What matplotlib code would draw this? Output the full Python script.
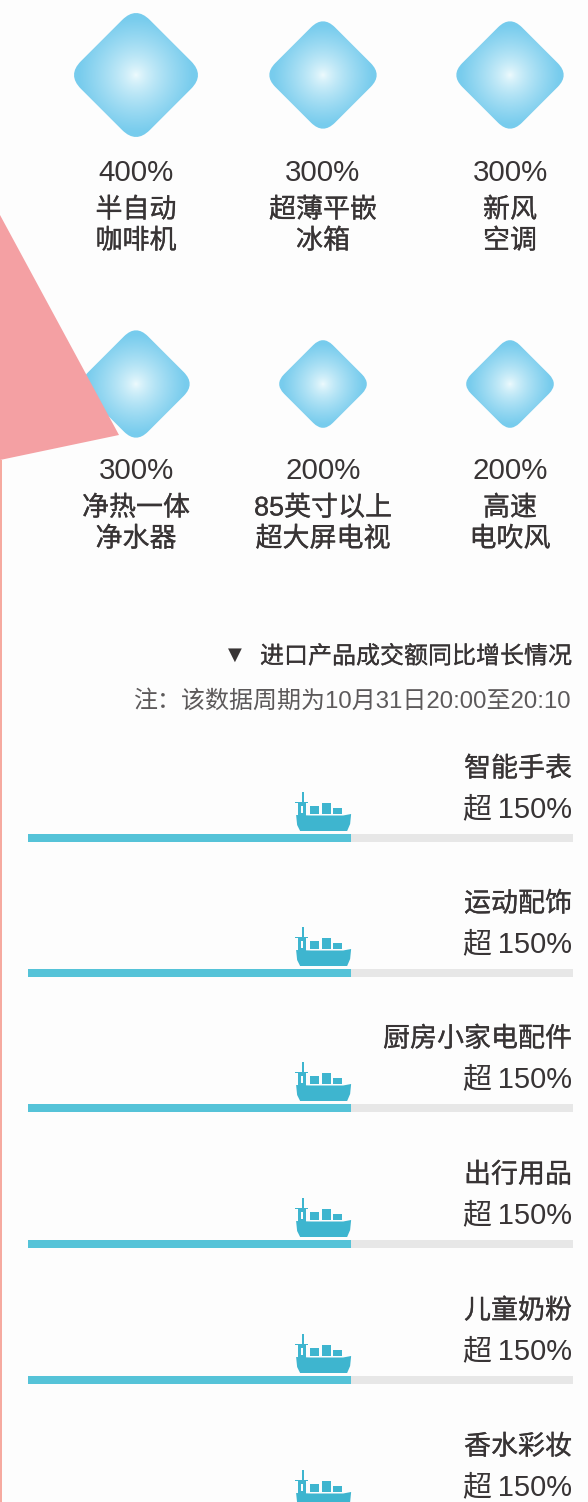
import numpy as np
import matplotlib
matplotlib.use("Agg")
import matplotlib.pyplot as plt
import matplotlib.patheffects as pe
from matplotlib.path import Path
from matplotlib.patches import PathPatch, Polygon, Rectangle

W, H = 588, 1502
DPI = 100
BG = "#fdfdfd"
TEXT = "#383435"
FONT = ["Liberation Sans", "Noto Sans CJK SC", "DejaVu Sans"]
HEAVY = [pe.withStroke(linewidth=0.18, foreground=TEXT)]  # thickens the regular CJK cut a little

# appliance growth, diamonds sized by area
growth_values = [400, 300, 300, 300, 200, 200]
growth_labels = ["400%", "300%", "300%", "300%", "200%", "200%"]
growth_names = [["半自动", "咖啡机"], ["超薄平嵌", "冰箱"], ["新风", "空调"],
                ["净热一体", "净水器"], ["85英寸以上", "超大屏电视"], ["高速", "电吹风"]]

# imported products
import_names = ["智能手表", "运动配饰", "厨房小家电配件", "出行用品", "儿童奶粉", "香水彩妆"]
import_values = [150, 150, 150, 150, 150, 150]
import_labels = ["超\u2009150%"] * 6
AXIS_MAX = 253  # full length of the grey track

DIAMOND_X = [136, 323, 510]
DIAMOND_Y = [75, 384]
LABEL_Y = [173, 471]
ROW_Y = [838, 973, 1108, 1244, 1380, 1516]


def px(size):
    return size * 72 / DPI


def rounded_diamond(cx, cy, half, r=0.2):
    """Diamond with softened corners; half is the reach of the rounded tips."""
    reach = half / (1 - r / 2)
    corners = [(cx, cy - reach), (cx + reach, cy), (cx, cy + reach), (cx - reach, cy)]
    verts, codes = [], []
    for i, c in enumerate(corners):
        prev_c = np.array(corners[i - 1])
        next_c = np.array(corners[(i + 1) % 4])
        c = np.array(c)
        a = c + (prev_c - c) * r
        b = c + (next_c - c) * r
        verts += [a, c, b]
        codes += [Path.LINETO, Path.CURVE3, Path.CURVE3]
    codes[0] = Path.MOVETO
    verts.append(verts[0])
    codes.append(Path.CLOSEPOLY)
    return Path(verts, codes)


def draw_diamond(ax, cx, cy, half):
    inner = np.array([0.94, 0.985, 0.995])
    outer = np.array([0.47, 0.80, 0.93])
    n = 200
    yy, xx = np.mgrid[-1:1:n * 1j, -1:1:n * 1j]
    d = np.clip(np.hypot(xx, yy) / 0.92, 0, 1)[..., None] ** 0.75
    img = ax.imshow(inner * (1 - d) + outer * d,
                    extent=(cx - half, cx + half, cy + half, cy - half),
                    zorder=2, interpolation="bilinear", aspect="auto")
    img.set_clip_path(PathPatch(rounded_diamond(cx, cy, half), transform=ax.transData))


def draw_ship(ax, x1, y, color="#3eb5cf"):
    """Cargo ship icon whose bow sits at x1, just above the bar at y."""
    hull = [(-55, -23), (-40, -22.5), (-8, -22.5), (0, -24), (-1, -14), (-4, -7), (-51, -7), (-54, -13)]
    ax.add_patch(Polygon([(x1 + a, y + b) for a, b in hull], fc=color, ec="none", zorder=4))
    # bridge, mast and containers
    for dx, dy, w, h in [(-53, -35, 8, 13), (-49.5, -46, 2, 12), (-56, -36.5, 13, 1.5),
                         (-41, -32.5, 9, 8.5), (-29, -35.5, 9, 11.5), (-18, -30.5, 9, 6.5)]:
        ax.add_patch(Rectangle((x1 + dx, y + dy), w, h, fc=color, ec="none", zorder=4))
    ax.add_patch(Rectangle((x1 - 50, y - 32), 2.2, 7, fc=BG, ec="none", zorder=5))


fig = plt.figure(figsize=(W / DPI, H / DPI), dpi=DPI, facecolor=BG)
ax = fig.add_axes([0, 0, 1, 1])
ax.set_facecolor(BG)
ax.set_xlim(0, W)
ax.set_ylim(H, 0)
ax.axis("off")

for i, (v, lab, names) in enumerate(zip(growth_values, growth_labels, growth_names)):
    cx = DIAMOND_X[i % 3]
    cy = DIAMOND_Y[i // 3]
    draw_diamond(ax, cx, cy, 3.1 * np.sqrt(v))
    top = LABEL_Y[i // 3]
    ax.text(cx, top, lab, ha="center", va="center", fontsize=px(29.5), color=TEXT, family=FONT, zorder=6)
    for offset, name in zip([37.5, 68.5], names):
        ax.text(cx, top + offset, name, ha="center", va="center", fontsize=px(27), color=TEXT,
                family=FONT, path_effects=HEAVY, zorder=6)

# red wedge and rule running in from the left
ax.add_patch(Polygon([(0, 215), (119, 435), (0, 460)], fc="#f4a0a3", ec="none", zorder=5))
ax.add_patch(Rectangle((0, 460), 1.6, H - 460, fc="#f6aaa0", ec="none", zorder=5))

ax.text(572, 657, "进口产品成交额同比增长情况", ha="right", va="center", fontsize=px(24), color=TEXT,
        family=FONT, path_effects=HEAVY)
ax.text(235, 655, "▼", ha="center", va="center", fontsize=px(18), color=TEXT, family=["DejaVu Sans"])
ax.text(572, 701, "注：该数据周期为10月31日20:00至20:10", ha="right", va="center", fontsize=px(24),
        color="#5c595a", family=FONT)

# bars get their own axes so length comes straight from the values
ax_bar = fig.add_axes([28 / W, 0, (573 - 28) / W, 1])
ax_bar.patch.set_alpha(0)
ax_bar.set_xlim(0, AXIS_MAX)
ax_bar.set_ylim(H, 0)
ax_bar.axis("off")
ax_bar.barh(ROW_Y, [AXIS_MAX] * len(ROW_Y), height=7.5, color="#e7e7e7", zorder=1)
ax_bar.barh(ROW_Y, import_values, height=7.5, color="#55c3d8", zorder=2)

for y, name, v, lab in zip(ROW_Y, import_names, import_values, import_labels):
    ax.text(572, y - 68.5, name, ha="right", va="center", fontsize=px(27), color=TEXT,
            family=FONT, path_effects=HEAVY)
    ax.text(572, y - 28.5, lab, ha="right", va="center", fontsize=px(29), color=TEXT, family=FONT)
    draw_ship(ax, 28 + v * (573 - 28) / AXIS_MAX, y)

fig.savefig("out.png", dpi=DPI, facecolor=BG)
plt.close(fig)
